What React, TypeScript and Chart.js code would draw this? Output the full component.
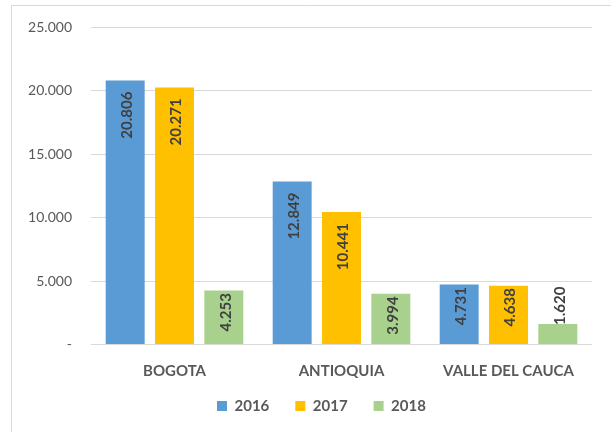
import React, { useEffect, useRef } from "react";
import { Chart, registerables } from "chart.js";

Chart.register(...registerables);

const categories = ["BOGOTA", "ANTIOQUIA", "VALLE DEL CAUCA"];
const seriesNames = ["2016", "2017", "2018"];
const values2016 = [20806, 12849, 4731];
const values2017 = [20271, 10441, 4638];
const values2018 = [4253, 3994, 1620];
const seriesColors = ["#5B9BD5", "#FFC000", "#A9D18E"];
const yTickValues = [0, 5000, 10000, 15000, 20000, 25000];

const fmt = (v: number) =>
  v === 0 ? "-" : String(Math.round(v)).replace(/\B(?=(\d{3})+(?!\d))/g, ".");

const FONT = "Lato, 'Liberation Sans', sans-serif";

const framePlugin = {
  id: "frame",
  beforeDraw(chart: any) {
    const ctx = chart.ctx;
    ctx.save();
    ctx.fillStyle = "#ffffff";
    ctx.fillRect(0, 0, chart.width, chart.height);
    ctx.strokeStyle = "#D9D9D9";
    ctx.lineWidth = 1;
    ctx.beginPath();
    ctx.moveTo(11.5, chart.height);
    ctx.lineTo(11.5, 5.5);
    ctx.lineTo(chart.width, 5.5);
    ctx.stroke();
    ctx.restore();
    const lg = chart.legend;
    if (lg && lg.lineWidths) {
      const pad = lg.options.labels.padding;
      const lw = lg.lineWidths[0];
      const x0 = (lg.left + pad + lg.right - lw) / 2;
      const d = 217 - x0;
      lg.left += d;
      lg.right += d;
      const h = lg.bottom - lg.top;
      lg.top = 406 - pad - 7.5;
      lg.bottom = lg.top + h;
    }
  },
};

const labelPlugin = {
  id: "barLabels",
  afterDatasetsDraw(chart: any) {
    const ctx = chart.ctx;
    ctx.save();
    ctx.font = `bold 15px ${FONT}`;
    ctx.fillStyle = "#404040";
    ctx.textBaseline = "middle";
    chart.data.datasets.forEach((ds: any, i: number) => {
      const meta = chart.getDatasetMeta(i);
      meta.data.forEach((bar: any, j: number) => {
        const text = fmt(ds.data[j]);
        const { x, y, base } = bar.getProps(["x", "y", "base"], true);
        const w = ctx.measureText(text).width;
        const h = base - y;
        ctx.save();
        if (h >= w + 22) {
          ctx.translate(x + 2, y + 11);
          ctx.rotate(-Math.PI / 2);
          ctx.textAlign = "right";
        } else if (h >= w + 5) {
          ctx.translate(x + 2, y + 2.5);
          ctx.rotate(-Math.PI / 2);
          ctx.textAlign = "right";
        } else {
          ctx.translate(x + 2, y + 1);
          ctx.rotate(-Math.PI / 2);
          ctx.textAlign = "left";
        }
        ctx.fillText(text, 0, 0);
        ctx.restore();
      });
    });
    ctx.restore();
  },
};

export default function App() {
  const ref = useRef<HTMLCanvasElement>(null);
  useEffect(() => {
    if (!ref.current) return;
    const datasets = [values2016, values2017, values2018].map((vals, i) => ({
      label: seriesNames[i],
      data: vals,
      backgroundColor: seriesColors[i],
      borderWidth: 0,
      categoryPercentage: 0.886,
      barPercentage: 0.79,
    }));
    const chart = new Chart(ref.current, {
      type: "bar",
      data: { labels: categories, datasets },
      plugins: [framePlugin, labelPlugin],
      options: {
        responsive: false,
        animation: false,
        layout: { padding: { left: 0, right: 19, top: 24, bottom: 0 } },
        plugins: {
          tooltip: { enabled: false },
          legend: {
            position: "bottom",
            labels: {
              boxWidth: 10,
              boxHeight: 10,
              padding: 26,
              color: "#595959",
              font: { family: FONT, size: 15, weight: "bold" },
            },
          },
        },
        scales: {
          x: {
            grid: { display: false },
            border: { display: false },
            ticks: {
              color: "#595959",
              padding: 10,
              font: { family: FONT, size: 15, weight: "bold" },
            },
            afterFit: (s: any) => {
              s.height = 36.5;
            },
          },
          y: {
            min: 0,
            max: 25000,
            afterBuildTicks: (s: any) => {
              s.ticks = yTickValues.map((v) => ({ value: v }));
            },
            grid: { color: "#D9D9D9", lineWidth: 1, drawTicks: false },
            border: { display: false },
            ticks: {
              color: "#595959",
              padding: 19,
              font: { family: FONT, size: 14 },
              callback: (v: any) => fmt(Number(v)),
            },
            afterFit: (s: any) => {
              s.width = 91;
            },
          },
        },
      },
    });
    return () => chart.destroy();
  }, []);
  return (
    <div style={{ position: "absolute", left: 0, top: 0, width: 611, height: 432, background: "#fff" }}>
      <canvas ref={ref} width={611} height={432} />
    </div>
  );
}
